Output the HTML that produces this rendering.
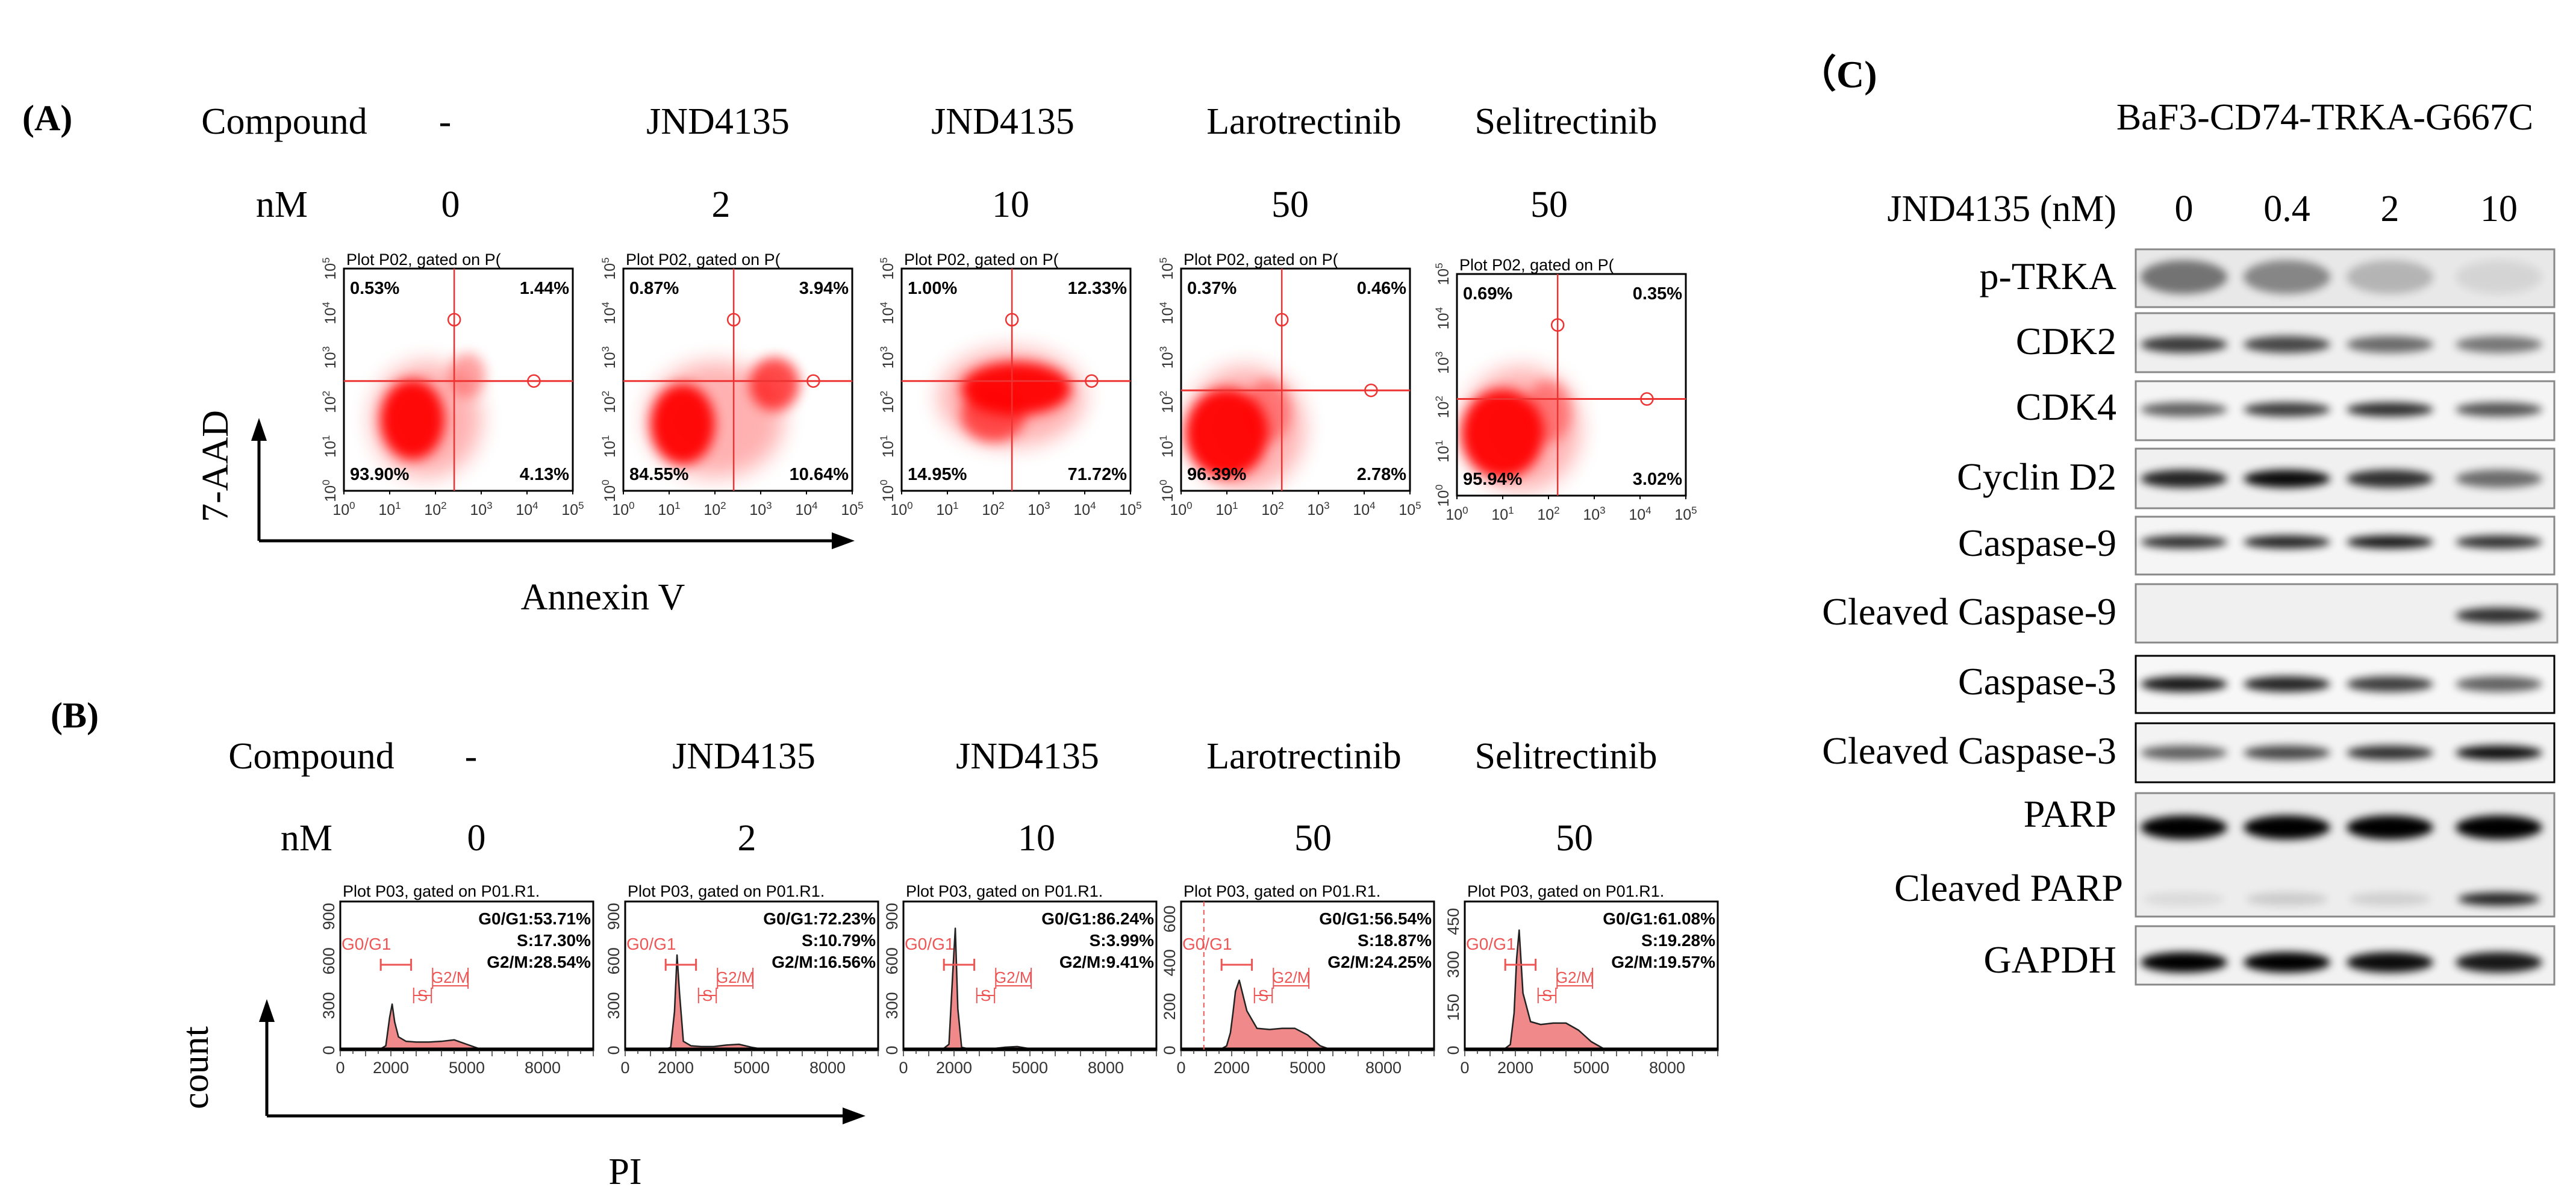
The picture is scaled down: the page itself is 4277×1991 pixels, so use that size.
<!DOCTYPE html>
<html><head><meta charset="utf-8"><style>
html,body{margin:0;padding:0;background:#fff;}
svg{display:block;}
.serif{font-family:"Liberation Serif",serif;}
.sans{font-family:"Liberation Sans",sans-serif;}
</style></head>
<body>
<svg id="fig" width="4277" height="1991" viewBox="0 0 4277 1991" xmlns="http://www.w3.org/2000/svg">
<defs>
<filter id="blurS" x="-50%" y="-50%" width="200%" height="200%"><feGaussianBlur stdDeviation="10"/></filter>
<filter id="blurW" x="-50%" y="-50%" width="200%" height="200%"><feGaussianBlur stdDeviation="18"/></filter>
<filter id="blurB" x="-50%" y="-100%" width="200%" height="300%"><feGaussianBlur stdDeviation="7"/></filter>
</defs>
</svg>
<script>
// ---------- data ----------
const compounds = ["-","JND4135","JND4135","Larotrectinib","Selitrectinib"];
const doses = ["0","2","10","50","50"];
const ulPct = ["0.53%","0.87%","1.00%","0.37%","0.69%"];
const urPct = ["1.44%","3.94%","12.33%","0.46%","0.35%"];
const llPct = ["93.90%","84.55%","14.95%","96.39%","95.94%"];
const lrPct = ["4.13%","10.64%","71.72%","2.78%","3.02%"];
const quadVx = [2.41,2.41,2.41,2.2,2.2];
const quadHy = [2.47,2.47,2.47,2.26,2.18];
const clusterX = [[1.5,2.7,1.8],[1.3,3.3,2.0],[2.5,2.0,2.4],[1.0,1.9,1.4],[1.0,2.0,1.4]];
const clusterY = [[1.6,2.6,1.6],[1.5,2.4,1.6],[2.3,1.7,2.1],[1.3,1.8,1.4],[1.4,1.9,1.5]];
const clusterRx = [[0.7,0.4,1.2],[0.7,0.55,1.5],[1.2,0.7,1.6],[0.9,0.5,1.3],[0.9,0.5,1.3]];
const clusterRy = [[0.9,0.5,1.3],[0.9,0.6,1.3],[0.6,0.6,1.1],[1.0,0.7,1.4],[1.0,0.7,1.4]];
const clusterA = [[0.95,0.35,0.3],[0.95,0.7,0.3],[0.95,0.6,0.3],[0.95,0.35,0.3],[0.95,0.35,0.3]];
const decadeTicks = [0,1,2,3,4,5];

const histBins = [0,1500,1800,1950,2050,2150,2300,2600,3000,3500,4000,4500,5000,5500,6000,10000];
const histCounts = [
 [0,0,30,220,310,190,90,60,55,55,60,70,40,10,0,0],
 [0,0,20,260,640,380,60,30,25,25,35,40,20,5,0,0],
 [0,0,40,520,820,280,20,8,8,10,20,25,10,2,0,0],
 [0,0,20,80,170,270,320,180,100,95,100,100,70,20,0,0],
 [0,0,20,130,320,420,200,100,90,95,95,70,30,5,0,0]];
const histYMax = [1000,1000,1000,680,520];
const histYTicks = [[0,300,600,900],[0,300,600,900],[0,300,600,900],[0,200,400,600],[0,150,300,450]];
const histXTicks = [0,2000,5000,8000];
const g0g1 = ["G0/G1:53.71%","G0/G1:72.23%","G0/G1:86.24%","G0/G1:56.54%","G0/G1:61.08%"];
const sPh = ["S:17.30%","S:10.79%","S:3.99%","S:18.87%","S:19.28%"];
const g2m = ["G2/M:28.54%","G2/M:16.56%","G2/M:9.41%","G2/M:24.25%","G2/M:19.57%"];

const blotLanes = ["0","0.4","2","10"];
const blotRows = ["p-TRKA","CDK2","CDK4","Cyclin D2","Caspase-9","Cleaved Caspase-9","Caspase-3","Cleaved Caspase-3","PARP","GAPDH"];
const bandPTRKA = [0.5,0.42,0.22,0.08];
const bandCDK2 = [0.75,0.7,0.55,0.5];
const bandCDK4 = [0.6,0.75,0.8,0.65];
const bandCycD2 = [0.85,0.95,0.8,0.55];
const bandCasp9 = [0.8,0.85,0.9,0.8];
const bandClCasp9 = [0,0,0,0.8];
const bandCasp3 = [0.9,0.85,0.75,0.6];
const bandClCasp3 = [0.6,0.7,0.8,0.95];
const bandPARP = [1,1,1,1];
const bandClPARP = [0.08,0.14,0.12,0.85];
const bandGAPDH = [1,1,0.95,0.9];

// ---------- helpers ----------
const NS="http://www.w3.org/2000/svg";
const svg=document.getElementById('fig');
function mk(tag,attrs,parent,txt){const e=document.createElementNS(NS,tag);for(const k in attrs)e.setAttribute(k,attrs[k]);if(txt!==undefined)e.textContent=txt;(parent||svg).appendChild(e);return e;}
function g(name){const e=mk('g',{});


return e;}
function label(parent,x,y,s,size,cls,anchor,name,extra){const t=mk('text',Object.assign({x:x,y:y,'font-size':size,'text-anchor':anchor||'middle',class:cls},extra||{}),parent,s);


return t;}

// ---------- panel labels ----------
label(svg,37,216,"(A)",60,"serif","start","panel-label-a",{'font-weight':'bold'});
label(svg,84,1208,"(B)",60,"serif","start","panel-label-b",{'font-weight':'bold'});
label(svg,2985,145,"（C)",64,"serif","start","panel-label-c",{'font-weight':'bold'});

const colA=[739,1192,1665,2165,2600], colAn=[748,1197,1678,2142,2572];
const colB=[782,1235,1706,2165,2600], colBn=[791,1240,1721,2180,2614];
function headers(gp,cx,cn,cy,ny,cx0,nx0,tag){
 label(gp,cx0,cy,"Compound",62,"serif","middle",tag+"-compound-header");
 label(gp,nx0,ny,"nM",62,"serif","middle",tag+"-nm-header");
 compounds.forEach((c,i)=>{label(gp,cx[i],cy,c,62,"serif","middle",tag+"-compound-"+i);});
 doses.forEach((d,i)=>{label(gp,cn[i],ny,d,62,"serif","middle",tag+"-dose-"+i);});
}
headers(g('panel-a-headers'),colA,colAn,222,360,472,468,'a');
headers(g('panel-b-headers'),colB,colBn,1276,1412,517,509,'b');

// ---------- scatter plots (A) ----------
const scX=[571,1035,1497,1961,2419], scTop=[446,446,446,446,455], scBot=[815,815,815,815,823], scW=380;
for(let p=0;p<5;p++){
 const gp=g('annexin-plot-'+p);
 const x0=scX[p],y0=scTop[p],h=scBot[p]-scTop[p],w=scW;
 const sx=d=>x0+d/5*w, sy=d=>y0+h-d/5*h;
 const cp=mk('clipPath',{id:'scclip'+p},gp);mk('rect',{x:x0,y:y0,width:w,height:h},cp);
 const dots=mk('g',{'clip-path':'url(#scclip'+p+')'},gp);
 for(let c=clusterX[p].length-1;c>=0;c--){
  const e=mk('ellipse',{cx:sx(clusterX[p][c]),cy:sy(clusterY[p][c]),rx:clusterRx[p][c]/5*w,ry:clusterRy[p][c]/5*h,fill:'#f00',opacity:clusterA[p][c],filter:c===2?'url(#blurW)':'url(#blurS)'},dots);
  
  
 }
 const fr=mk('rect',{x:x0,y:y0,width:w,height:h,fill:'none',stroke:'#000','stroke-width':3},gp);
 
 
 const vx=sx(quadVx[p]),hy=sy(quadHy[p]);
 const vl=mk('line',{x1:vx,y1:y0,x2:vx,y2:y0+h,stroke:'#e33','stroke-width':2.5},gp);
 
 
 const hl=mk('line',{x1:x0,y1:hy,x2:x0+w,y2:hy,stroke:'#e33','stroke-width':3},gp);
 
 
 mk('circle',{cx:vx,cy:sy(3.85),r:10,fill:'none',stroke:'#e33','stroke-width':2.5},gp);
 mk('circle',{cx:sx(4.15),cy:hy,r:10,fill:'none',stroke:'#e33','stroke-width':2.5},gp);
 label(gp,x0+4,y0-6,"Plot P02, gated on P(",27,"sans","start","plot-title");
 label(gp,x0+10,y0+42,ulPct[p],29,"sans","start","pct-upper-left",{'font-weight':'bold'});
 label(gp,x0+w-6,y0+42,urPct[p],29,"sans","end","pct-upper-right",{'font-weight':'bold'});
 label(gp,x0+10,y0+h-18,llPct[p],29,"sans","start","pct-lower-left",{'font-weight':'bold'});
 label(gp,x0+w-6,y0+h-18,lrPct[p],29,"sans","end","pct-lower-right",{'font-weight':'bold'});
 decadeTicks.forEach(d=>{
  const t=label(gp,sx(d),y0+h+40,"10",25,"sans","middle","x-tick-label",{fill:'#333'});
  mk('tspan',{dy:-10,'font-size':17},t,String(d));
  const ty=sy(d);
  const t2=label(gp,0,0,"10",25,"sans","middle","y-tick-label",{fill:'#333',transform:`translate(${x0-14},${ty}) rotate(-90)`});
  mk('tspan',{dy:-10,'font-size':17},t2,String(d));
  mk('line',{x1:sx(d),y1:y0+h,x2:sx(d),y2:y0+h+6,stroke:'#000','stroke-width':2},gp);
 });
}
function arrowAxes(name,ox,oy,topY,rightX){
 const gp=g(name);
 mk('line',{x1:ox,y1:oy,x2:ox,y2:topY+30,stroke:'#000','stroke-width':5},gp);
 mk('polygon',{points:`${ox-13},${topY+32} ${ox+13},${topY+32} ${ox},${topY-6}`,fill:'#000'},gp);
 mk('line',{x1:ox,y1:oy,x2:rightX-30,y2:oy,stroke:'#000','stroke-width':5},gp);
 mk('polygon',{points:`${rightX-32},${oy-14} ${rightX-32},${oy+14} ${rightX+6},${oy}`,fill:'#000'},gp);
 return gp;
}
const axA=arrowAxes('panel-a-axes',430,898,700,1413);
label(axA,0,0,"7-AAD",62,"serif","middle","y-axis-title-7aad",{transform:'translate(378,774) rotate(-90)'});
label(axA,1001,1012,"Annexin  V",62,"serif","middle","x-axis-title-annexin");

// ---------- histograms (B) ----------
const hX=[565,1038,1500,1961,2432], hTop=1497, hBot=1744, hW=420;
for(let p=0;p<5;p++){
 const gp=g('cell-cycle-plot-'+p);
 const x0=hX[p],h=hBot-hTop;
 const sx=v=>x0+v/10000*hW, sy=v=>hBot-v/histYMax[p]*h;
 let d=`M${sx(histBins[0])},${sy(0)}`;
 histBins.forEach((b,i)=>{d+=` L${sx(b)},${sy(histCounts[p][i])}`;});
 d+=` L${sx(10000)},${sy(0)} Z`;
 const ar=mk('path',{d:d,fill:'#f08a8a',stroke:'#222','stroke-width':2.5,'stroke-linejoin':'round'},gp);
 
 
 const fr=mk('rect',{x:x0,y:hTop,width:hW,height:h,fill:'none',stroke:'#000','stroke-width':3},gp);
 
 
 mk('line',{x1:x0,y1:hBot-2,x2:x0+hW,y2:hBot-2,stroke:'#000','stroke-width':5},gp);
 label(gp,x0+4,hTop-8,"Plot P03, gated on P01.R1.",27,"sans","start","plot-title");
 label(gp,x0+hW-4,hTop+38,g0g1[p],28,"sans","end","g0g1-pct",{'font-weight':'bold'});
 label(gp,x0+hW-4,hTop+74,sPh[p],28,"sans","end","s-pct",{'font-weight':'bold'});
 label(gp,x0+hW-4,hTop+110,g2m[p],28,"sans","end","g2m-pct",{'font-weight':'bold'});
 histXTicks.forEach(v=>{label(gp,sx(v),hBot+38,String(v),27,"sans","middle","x-tick-label",{fill:'#333'});});
 for(let v=0;v<=10000;v+=500){mk('line',{x1:sx(v),y1:hBot,x2:sx(v),y2:hBot+(v%1000?6:10),stroke:'#333','stroke-width':1.5},gp);}
 histYTicks[p].forEach(v=>{label(gp,0,0,String(v),27,"sans","middle","y-tick-label",{fill:'#333',transform:`translate(${x0-10},${sy(v)}) rotate(-90)`});});
 const gy=hTop+105, gs=hTop+165, gg=hTop+135;
 label(gp,x0+2,hTop+80,"G0/G1",28,"sans","start","gate-g0g1",{fill:'#e55'});
 mk('path',{d:`M${sx(1600)},${gy-10}V${gy+10}M${sx(1600)},${gy}H${sx(2800)}M${sx(2800)},${gy-10}V${gy+10}`,stroke:'#e55','stroke-width':3,fill:'none'},gp);
 label(gp,sx(3250),gs,"S",26,"sans","middle","gate-s",{fill:'#e55'});
 mk('path',{d:`M${sx(2900)},${gs-22}V${gs+4}M${sx(2900)},${gs-9}H${sx(3600)}M${sx(3600)},${gs-22}V${gs+4}`,stroke:'#e55','stroke-width':2,fill:'none'},gp);
 label(gp,sx(4350),gg,"G2/M",26,"sans","middle","gate-g2m",{fill:'#e55'});
 mk('path',{d:`M${sx(3650)},${gg-25}V${gg+10}M${sx(3650)},${gg+5}H${sx(5050)}M${sx(5050)},${gg-25}V${gg+10}`,stroke:'#e55','stroke-width':2,fill:'none'},gp);
 if(p===3) mk('line',{x1:sx(900),y1:hTop,x2:sx(900),y2:hBot,stroke:'#e55','stroke-width':2,'stroke-dasharray':'8 6'},gp);
}
const axB=arrowAxes('panel-b-axes',443,1853,1665,1431);
label(axB,0,0,"count",62,"serif","middle","y-axis-title-count",{transform:'translate(345,1773) rotate(-90)'});
label(axB,1038,1966,"PI",62,"serif","middle","x-axis-title-pi");

// ---------- western blot (C) ----------
const gc=g('western-blot');
label(gc,3860,215,"BaF3-CD74-TRKA-G667C",62,"serif","middle","cell-line-title");
label(gc,3514,367,"JND4135 (nM)",62,"serif","end","dose-header");
const laneX=[3626,3797,3968,4149];
blotLanes.forEach((l,i)=>label(gc,laneX[i],367,l,62,"serif","middle","lane-dose-"+i));
const boxY0=[414,520,633,745,858,970,1089,1201,1317,1538];
const boxY1=[510,618,731,844,954,1067,1184,1299,1522,1635];
const boxBorder=['#888','#888','#888','#888','#888','#888','#000','#000','#888','#888'];
const boxFill=['#e8e8e8','#efefef','#f5f5f5','#f0f0f0','#f5f5f5','#f0f0f0','#f7f7f7','#f3f3f3','#ededed','#f2f2f2'];
const labelY=[480,588,697,813,923,1037,1153,1268,1373,1615];
const bandSets=[bandPTRKA,bandCDK2,bandCDK4,bandCycD2,bandCasp9,bandClCasp9,bandCasp3,bandClCasp3,bandPARP,bandGAPDH];
const bandY=[460,572,680,795,900,1022,1136,1250,1374,1598];
const bandRy=[28,14,12,15,11,13,13,12,20,17];
for(let r=0;r<blotRows.length;r++){
 const x1=(r===5?4246:4241);
 const bx=mk('rect',{x:3546,y:boxY0[r],width:x1-3546,height:boxY1[r]-boxY0[r],fill:boxFill[r],stroke:boxBorder[r],'stroke-width':3},gc);
 
 
 label(gc,3514,labelY[r],blotRows[r],64,"serif","end","blot-label-"+r);
 bandSets[r].forEach((v,i)=>{
  const b=mk('ellipse',{cx:laneX[i],cy:bandY[r],rx:72,ry:bandRy[r],fill:'#000',opacity:v,filter:'url(#blurB)'},gc);
  
  
 });
}
label(gc,3525,1496,"Cleaved PARP",64,"serif","end","blot-label-cleaved-parp");
bandClPARP.forEach((v,i)=>{
 const b=mk('ellipse',{cx:laneX[i],cy:1493,rx:68,ry:11,fill:'#000',opacity:v,filter:'url(#blurB)'},gc);
 
 
});
</script>
</body></html>
